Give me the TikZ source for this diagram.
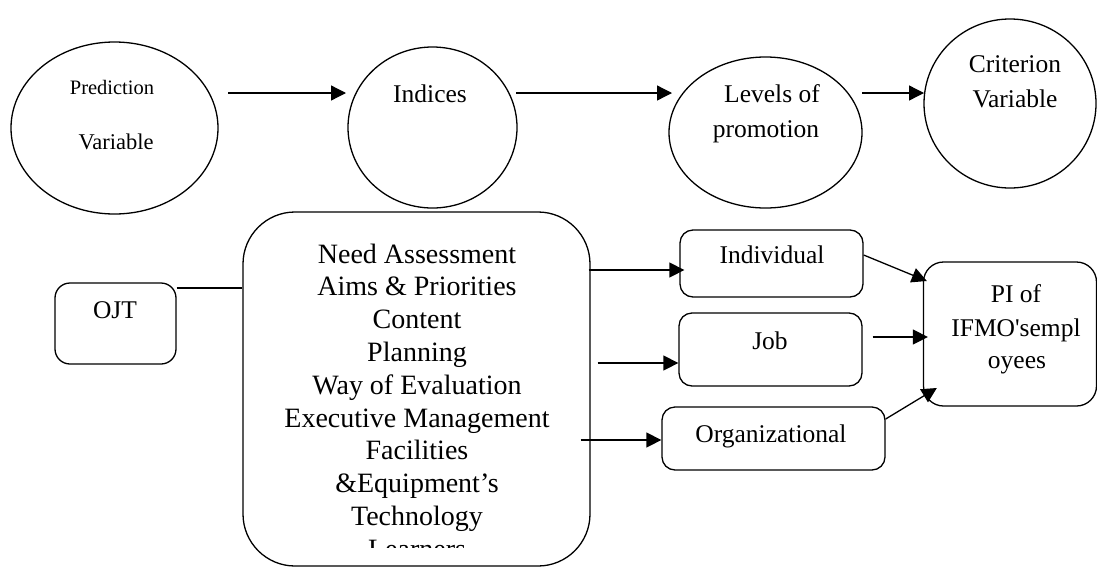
\documentclass[tikz,border=0pt]{standalone}
\usepackage{fontspec}
\setmainfont{Liberation Serif}
\usetikzlibrary{arrows.meta,shapes.geometric}
\begin{document}
\begin{tikzpicture}[x=1pt,y=-1pt,
  lw/.style={line width=1.3pt},
  oval/.style={draw,ellipse,lw,inner sep=0pt},
  rbox/.style={draw,lw,rounded corners=#1,inner sep=0pt},
  txt/.style={anchor=base,inner sep=0pt,font=\fontsize{25.5}{30}\selectfont},
  bigtxt/.style={anchor=base,inner sep=0pt,font=\fontsize{28}{33}\selectfont},
  arr/.style={lw,-{Triangle[length=15pt,width=15pt]}},
  conn/.style={lw}]
\useasboundingbox (0,0) rectangle (1097,568);

% top row
\node[oval,minimum width=207pt,minimum height=172pt] (pred) at (114.5,128) {};
\node[oval,minimum width=169pt,minimum height=161pt] (ind) at (432.5,127.5) {};
\node[oval,minimum width=193pt,minimum height=151pt] (lev) at (765.5,132.5) {};
\node[oval,minimum width=172pt,minimum height=169pt] (crit) at (1010,103.5) {};

\node[txt,font=\fontsize{20.5}{24}\selectfont] (predA) at (112,94) {Prediction};
\node[txt,font=\fontsize{22.5}{26}\selectfont] (predB) at (116,149) {Variable};
\node[txt] (indT) at (430,102) {Indices};
\node[txt] (levA) at (772,102) {Levels of};
\node[txt] (levB) at (766,137) {promotion};
\node[txt] (critA) at (1015,72) {Criterion};
\node[txt] (critB) at (1015,107) {Variable};

\coordinate (p1s) at (228,93);
\coordinate (p1e) at (346,93);
\coordinate (p2s) at (516,93);
\coordinate (p2e) at (672,93);
\coordinate (p3s) at (862,93);
\coordinate (p3e) at (924,93);
\draw[arr] (p1s) -- (p1e);
\draw[arr] (p2s) -- (p2e);
\draw[arr] (p3s) -- (p3e);

% bottom part
\node[rbox=52pt,minimum width=347pt,minimum height=354pt] (big) at (416.5,389) {};
\node[rbox=15pt,minimum width=121pt,minimum height=81pt] (ojt) at (115.5,323.5) {};
\node[txt] (ojtT) at (115,318) {OJT};
\node[rbox=13pt,minimum width=183pt,minimum height=67pt] (indiv) at (771.5,263.5) {};
\node[txt] (indivT) at (772,263) {Individual};
\node[rbox=13pt,minimum width=183pt,minimum height=73pt] (job) at (770.5,349.5) {};
\node[txt] (jobT) at (770,349) {Job};
\node[rbox=13pt,minimum width=223pt,minimum height=63pt] (org) at (773.5,438.5) {};
\node[txt] (orgT) at (771,442) {Organizational};
\node[rbox=20pt,minimum width=173pt,minimum height=144pt] (pi) at (1010,334) {};
\node[txt] (piA) at (1016,302) {PI of};
\node[txt] (piB) at (1016,336) {IFMO\textquotesingle sempl};
\node[txt] (piC) at (1017,368) {oyees};

\begin{scope}
  \clip (243,212) rectangle (590,547);
  \foreach \t [count=\i from 0] in {Need Assessment,Aims \& Priorities,Content,Planning,Way of Evaluation,Executive Management,Facilities,\&Equipment’s,Technology,Learners}
    \node[bigtxt] (b\i) at (417,{263+32.8*\i}) {\t};
\end{scope}

\draw[conn] (ojt.east |- 0,288) -- (big.west |- 0,288);
\draw[arr] ([xshift=-2pt]big.east |- 0,270) -- ([xshift=5pt]indiv.west |- 0,270);
\draw[arr] ([xshift=7pt]big.east |- 0,363) -- (job.west |- 0,363);
\draw[arr] ([xshift=-10pt]big.east |- 0,440) -- (org.west |- 0,440);
\draw[arr] (indiv.east |- 0,255) -- ([xshift=4pt]pi.west |- 0,281);
\draw[arr] ([xshift=10pt]job.east |- 0,337) -- ([xshift=5pt]pi.west |- 0,337);
\draw[arr] (org.east |- 0,419) -- ([xshift=14pt]pi.west |- 0,388);
\end{tikzpicture}
\end{document}
